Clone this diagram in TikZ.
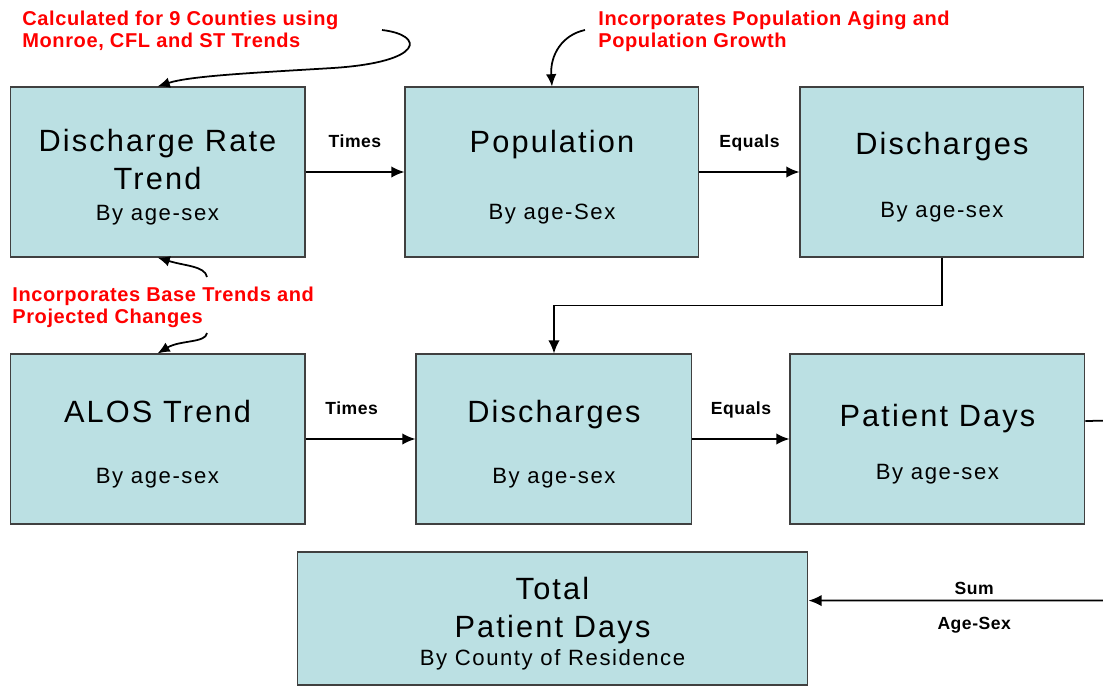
\documentclass[tikz,border=0pt]{standalone}
\usepackage{fontspec}
\setmainfont{Liberation Sans}
\newfontfamily\stagefont[LetterSpace=7]{Liberation Sans}
\newfontfamily\notefont[LetterSpace=3]{Liberation Sans}
\usetikzlibrary{arrows.meta, positioning, calc}
\definecolor{stagecyan}{HTML}{BBE0E3}
\definecolor{notered}{HTML}{FF0000}
\newcommand\stagetitle{\stagefont\fontsize{17.5}{21.6}\selectfont}
\newcommand\stagesub{\stagefont\fontsize{12.6}{15}\selectfont}
\newcommand\stagelift{\rule{0pt}{18.5pt}}

\begin{document}
\begin{tikzpicture}[x=0.02cm, y=-0.02cm,
  stage/.style={draw=black!75, line width=0.6pt, fill=stagecyan, inner sep=0pt, minimum height=3.4cm, align=center, font=\stagetitle},
  flow/.style={-{Latex[length=7.5pt,width=6.5pt]}, line width=1pt},
  note/.style={-{Latex[length=7pt,width=6pt]}, line width=1pt},
  opword/.style={font=\notefont\bfseries\fontsize{10}{12}\selectfont, inner sep=0pt, text height=7.2pt, text depth=0pt},
  remark/.style={font=\notefont\bfseries\fontsize{11.4}{12.5}\selectfont, text=notered, align=left, anchor=north west, inner sep=0pt}]
  \useasboundingbox (0,0) rectangle (1103,687);
  \clip (0,0) rectangle (1103,687);

  \node[stage, minimum width=5.9cm] (rate) at (157.5,172) {\stagelift Discharge Rate\\Trend\\[-3.5pt]\stagesub By age-sex};
  \node[stage, minimum width=5.88cm, right=1.98cm of rate] (pop) {\stagelift Population\\[17pt]\stagesub By age-Sex};
  \node[stage, minimum width=5.68cm, right=2cm of pop] (dis) {\stagelift Discharges\\[14pt]\stagesub By age-sex};
  \node[stage, minimum width=5.9cm, below=1.92cm of rate] (alos) {\stagelift ALOS Trend\\[13.5pt]\stagesub By age-sex};
  \node[stage, minimum width=5.52cm, right=2.2cm of alos] (dis2) {\stagelift Discharges\\[13.5pt]\stagesub By age-sex};
  \node[stage, minimum width=5.9cm, right=1.94cm of dis2] (pd) {\stagelift Patient Days\\[9pt]\stagesub By age-sex};
  \node[stage, minimum width=10.22cm, minimum height=2.66cm] (total) at (552.5,618.5) {\stagelift Total\\Patient Days\\[-6pt]\stagesub By County of Residence};

  \draw[flow] (rate) -- node[opword, above=13.6pt] {Times} (pop);
  \draw[flow] (pop) -- node[opword, above=13.6pt] {Equals} (dis);
  \draw[flow] (alos) -- node[opword, pos=0.42, above=13.6pt] {Times} (dis2);
  \draw[flow] (dis2) -- node[opword, above=13.6pt] {Equals} (pd);
  \draw[flow] (dis.south) |- ($(dis.south)!0.5!(dis2.north)$) -| (dis2.north);

  \coordinate (sumturn) at (1140,420);
  \draw[flow] ($(pd.east)+(0,-18)$) -- (sumturn) |- ([yshift=10.2pt]total.east)
    node[opword, pos=0.75, above=3pt] {Sum}
    node[opword, pos=0.75, below=9pt] {Age-Sex};

  \node[remark] (calcnote) at (22,11) {Calculated for 9 Counties using\\Monroe, CFL and ST Trends};
  \node[remark] (agenote) at (598,11) {Incorporates Population Aging and\\Population Growth};
  \node[remark] (basenote) at (12,287) {Incorporates Base Trends and\\Projected Changes};

  \coordinate (calctail) at (382,30);
  \coordinate (agetail) at (585,30);
  \coordinate (basetail1) at (207,277);
  \coordinate (basetail2) at (207,333);
  \draw[note] (calctail) .. controls (425,35) and (425,62) .. (333,68) .. controls (250,73) and (190,76) .. (rate.north);
  \draw[note] (agetail) .. controls (562,35) and (550,55) .. (pop.north);
  \draw[note] (basetail1) .. controls (205,266) and (185,266) .. (rate.south);
  \draw[note] (basetail2) .. controls (206,343) and (180,340) .. (alos.north);
\end{tikzpicture}
\end{document}
